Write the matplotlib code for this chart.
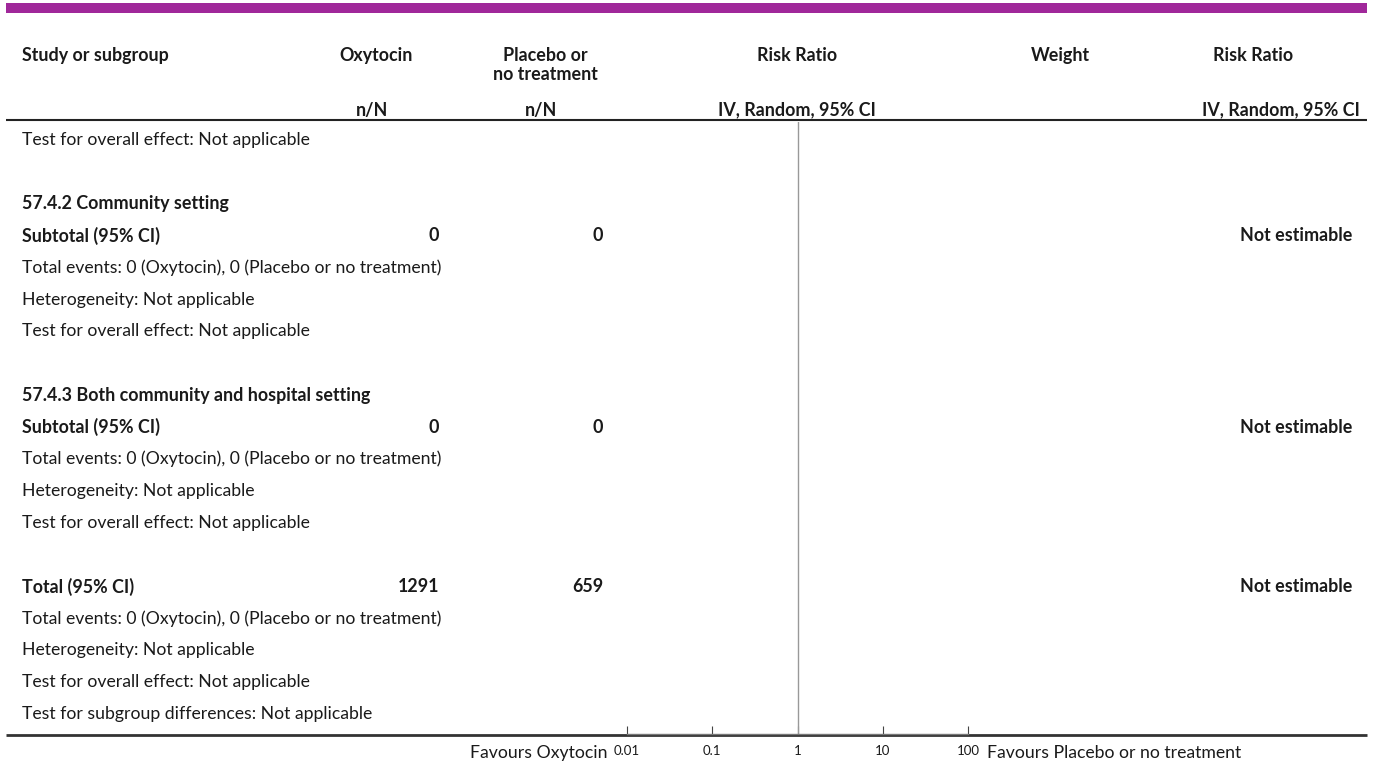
import matplotlib
matplotlib.use("Agg")
import matplotlib.pyplot as plt

plt.rcParams['font.family'] = ['Lato', 'DejaVu Sans']

# ---- data ----
col_headers = ["Study or subgroup", "Oxytocin", "Placebo or\nno treatment", "Risk Ratio", "Weight", "Risk Ratio"]
sub_headers = ["n/N", "n/N", "IV, Random, 95% CI", "IV, Random, 95% CI"]
row_labels = [
    "Test for overall effect: Not applicable",
    "",
    "57.4.2 Community setting",
    "Subtotal (95% CI)",
    "Total events: 0 (Oxytocin), 0 (Placebo or no treatment)",
    "Heterogeneity: Not applicable",
    "Test for overall effect: Not applicable",
    "",
    "57.4.3 Both community and hospital setting",
    "Subtotal (95% CI)",
    "Total events: 0 (Oxytocin), 0 (Placebo or no treatment)",
    "Heterogeneity: Not applicable",
    "Test for overall effect: Not applicable",
    "",
    "Total (95% CI)",
    "Total events: 0 (Oxytocin), 0 (Placebo or no treatment)",
    "Heterogeneity: Not applicable",
    "Test for overall effect: Not applicable",
    "Test for subgroup differences: Not applicable",
]
row_bold = [False, False, True, True, False, False, False, False, True, True,
            False, False, False, False, True, False, False, False, False]
oxy_total = ["", "", "", "0", "", "", "", "", "", "0", "", "", "", "", "1291", "", "", "", ""]
plac_total = ["", "", "", "0", "", "", "", "", "", "0", "", "", "", "", "659", "", "", "", ""]
rr_text = ["", "", "", "Not estimable", "", "", "", "", "", "Not estimable", "", "", "", "",
           "Not estimable", "", "", "", ""]
axis_ticks = [0.01, 0.1, 1, 10, 100]
axis_ticklabels = ["0.01", "0.1", "1", "10", "100"]
favours_left = "Favours Oxytocin"
favours_right = "Favours Placebo or no treatment"

W, H = 1375, 765
fig = plt.figure(figsize=(W / 100, H / 100), dpi=100)
ax = fig.add_axes([0, 0, 1, 1])
ax.set_xlim(0, W)
ax.set_ylim(H, 0)
ax.axis("off")

TXT = "#1a1a1a"
FS = 12.7
FSB = 12.9

# purple band
ax.fill_between([6, 1367], 3, 13, color="#a0289a", lw=0)

# headers
hy = 55
ax.text(22, hy, col_headers[0], ha="left", va="center", fontsize=FSB, fontweight="bold", color=TXT)
ax.text(376, hy, col_headers[1], ha="center", va="center", fontsize=FSB, fontweight="bold", color=TXT)
ax.text(545, 47, col_headers[2], ha="center", va="top", fontsize=FSB, fontweight="bold",
        color=TXT, linespacing=1.12)
ax.text(797, hy, col_headers[3], ha="center", va="center", fontsize=FSB, fontweight="bold", color=TXT)
ax.text(1060, hy, col_headers[4], ha="center", va="center", fontsize=FSB, fontweight="bold", color=TXT)
ax.text(1253, hy, col_headers[5], ha="center", va="center", fontsize=FSB, fontweight="bold", color=TXT)
sy = 110
ax.text(372, sy, sub_headers[0], ha="center", va="center", fontsize=FSB, fontweight="bold", color=TXT)
ax.text(541, sy, sub_headers[1], ha="center", va="center", fontsize=FSB, fontweight="bold", color=TXT)
ax.text(797, sy, sub_headers[2], ha="center", va="center", fontsize=FSB, fontweight="bold", color=TXT)
ax.text(1360, sy, sub_headers[3], ha="right", va="center", fontsize=FSB, fontweight="bold", color=TXT)

# header rule and bottom rule
ax.plot([6, 1367], [120, 120], color="#222222", lw=1.5, solid_capstyle="butt")
ax.plot([6, 1367], [735, 735], color="#333333", lw=2.0, solid_capstyle="butt")

# rows
y0, dy = 140, 31.9
for i, lab in enumerate(row_labels):
    y = y0 + i * dy
    w = "bold" if row_bold[i] else "normal"
    fs = FSB if row_bold[i] else FS
    if lab:
        ax.text(22, y, lab, ha="left", va="center", fontsize=fs, fontweight=w, color=TXT)
    if oxy_total[i]:
        ax.text(439, y, oxy_total[i], ha="right", va="center", fontsize=FSB, fontweight="bold", color=TXT)
    if plac_total[i]:
        ax.text(603, y, plac_total[i], ha="right", va="center", fontsize=FSB, fontweight="bold", color=TXT)
    if rr_text[i]:
        ax.text(1352, y, rr_text[i], ha="right", va="center", fontsize=FSB, fontweight="bold", color=TXT)

# forest axis
x_left, x_right = 627, 968
y_top, y_bot = 122, 734
fax = fig.add_axes([x_left / W, 1 - y_bot / H, (x_right - x_left) / W, (y_bot - y_top) / H])
fax.set_xscale("log")
fax.set_xlim(axis_ticks[0], axis_ticks[-1])
fax.set_ylim(0, 1)
fax.patch.set_alpha(0)
for s in ["top", "right", "left"]:
    fax.spines[s].set_visible(False)
fax.spines["bottom"].set_color("#777777")
fax.spines["bottom"].set_linewidth(1.0)
fax.set_yticks([])
fax.set_xticks(axis_ticks)
fax.set_xticklabels(axis_ticklabels)
fax.minorticks_off()
fax.tick_params(axis="x", direction="in", length=6, width=0.8, color="#444444",
                labelsize=9.5, pad=8, labelcolor=TXT)
fax.axvline(1, color="#999999", lw=1.0)

ax.text(608, 753, favours_left, ha="right", va="center", fontsize=FS, color=TXT)
ax.text(987, 753, favours_right, ha="left", va="center", fontsize=FS, color=TXT)

fig.savefig("out.png", dpi=100)
